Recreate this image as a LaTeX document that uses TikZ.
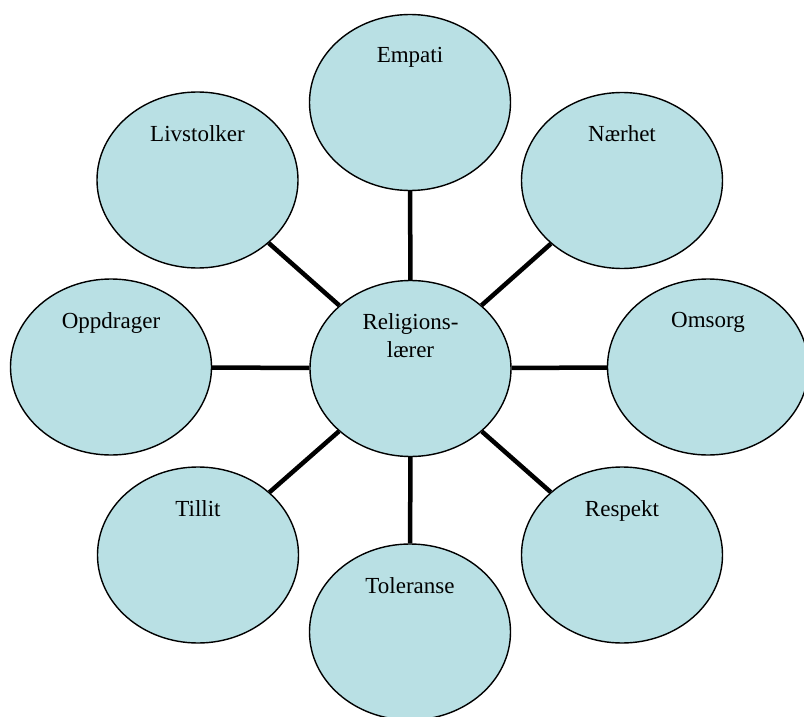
\documentclass[tikz,border=0pt]{standalone}
\usepackage{fontspec}
\setmainfont{Liberation Serif}
\usetikzlibrary{shapes.geometric,calc}
\definecolor{bubble}{RGB}{185,224,228}
\tikzset{
  bub/.style={ellipse, draw=black, line width=1.4pt, fill=bubble, minimum width=201pt, minimum height=176pt, inner sep=0pt},
  lbl/.style={anchor=north, inner sep=0pt, align=center, font=\fontsize{23}{28}\selectfont},
  conn/.style={draw=black, line width=4.5pt}
}
\begin{document}
\begin{tikzpicture}[x=1pt,y=-1pt]
\useasboundingbox (0,0) rectangle (804,717);
\node[bub] (c) at (410.5,368.5) {};
\node[bub] (emp) at (410,102.5) {};
\node[bub] (nar) at (622,180.5) {};
\node[bub] (oms) at (708,367) {};
\node[bub] (res) at (622,555) {};
\node[bub] (tol) at (410,632) {};
\node[bub] (til) at (198,555) {};
\node[bub] (opp) at (111,367) {};
\node[bub] (liv) at (197.5,180) {};
\foreach \n in {emp,nar,oms,res,tol,til,opp,liv} {\draw[conn] (c) -- (\n);}
\node[lbl] (tc) at ($(c.center)+(0,-55)$) {Religions-\\lærer};
\node[lbl] (temp) at ($(emp.center)+(0,-55)$) {Empati};
\node[lbl] (tnar) at ($(nar.center)+(0,-55)$) {Nærhet};
\node[lbl] (toms) at ($(oms.center)+(0,-55)$) {Omsorg};
\node[lbl] (tres) at ($(res.center)+(0,-55)$) {Respekt};
\node[lbl] (ttol) at ($(tol.center)+(0,-55)$) {Toleranse};
\node[lbl] (ttil) at ($(til.center)+(0,-55)$) {Tillit};
\node[lbl] (topp) at ($(opp.center)+(0,-55)$) {Oppdrager};
\node[lbl] (tliv) at ($(liv.center)+(0,-55)$) {Livstolker};
\end{tikzpicture}
\end{document}
